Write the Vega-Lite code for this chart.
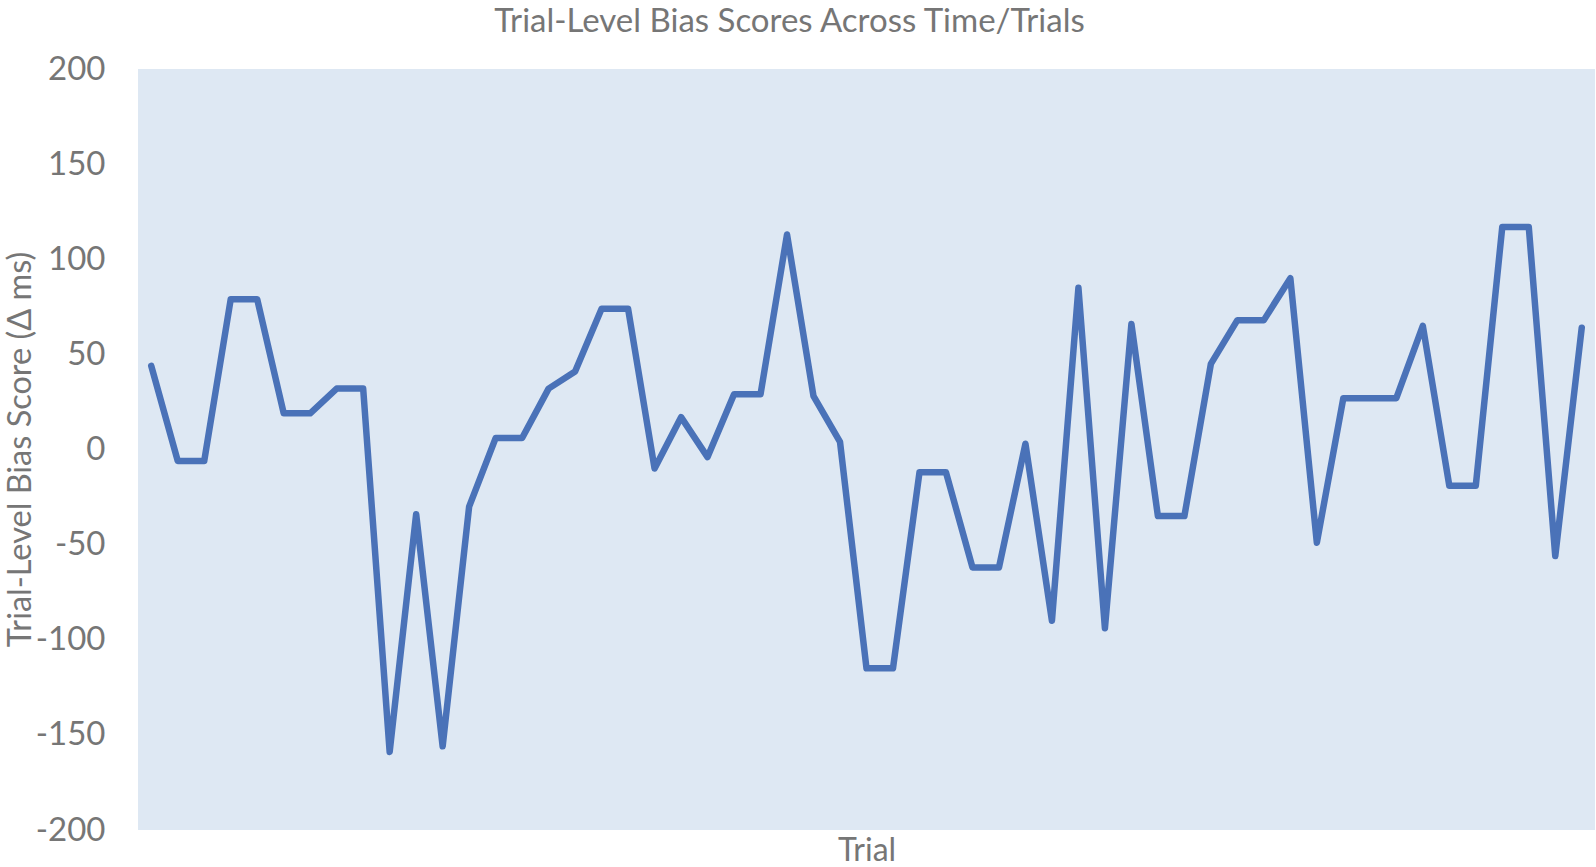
{
  "$schema": "https://vega.github.io/schema/vega-lite/v6.json",
  "width": 1457,
  "height": 761,
  "autosize": "none",
  "padding": {"left": 138, "top": 69, "right": 1, "bottom": 37},
  "background": "white",
  "config": {
    "font": "Lato",
    "view": {"fill": "#DEE8F3", "stroke": null}
  },
  "title": {
    "text": "Trial-Level Bias Scores Across Time/Trials",
    "font": "Lato",
    "fontSize": 33,
    "fontWeight": "normal",
    "color": "#767676",
    "anchor": "middle",
    "frame": "group",
    "dx": -77,
    "offset": 14
  },
  "data": {
    "values": [
      {"trial": 1, "score": 44}, {"trial": 2, "score": -6}, {"trial": 3, "score": -6},
      {"trial": 4, "score": 79}, {"trial": 5, "score": 79}, {"trial": 6, "score": 19},
      {"trial": 7, "score": 19}, {"trial": 8, "score": 32}, {"trial": 9, "score": 32},
      {"trial": 10, "score": -159}, {"trial": 11, "score": -34}, {"trial": 12, "score": -156},
      {"trial": 13, "score": -30}, {"trial": 14, "score": 6}, {"trial": 15, "score": 6},
      {"trial": 16, "score": 32}, {"trial": 17, "score": 41}, {"trial": 18, "score": 74},
      {"trial": 19, "score": 74}, {"trial": 20, "score": -10}, {"trial": 21, "score": 17},
      {"trial": 22, "score": -4}, {"trial": 23, "score": 29}, {"trial": 24, "score": 29},
      {"trial": 25, "score": 113}, {"trial": 26, "score": 28}, {"trial": 27, "score": 4},
      {"trial": 28, "score": -115}, {"trial": 29, "score": -115}, {"trial": 30, "score": -12},
      {"trial": 31, "score": -12}, {"trial": 32, "score": -62}, {"trial": 33, "score": -62},
      {"trial": 34, "score": 3}, {"trial": 35, "score": -90}, {"trial": 36, "score": 85},
      {"trial": 37, "score": -94}, {"trial": 38, "score": 66}, {"trial": 39, "score": -35},
      {"trial": 40, "score": -35}, {"trial": 41, "score": 45}, {"trial": 42, "score": 68},
      {"trial": 43, "score": 68}, {"trial": 44, "score": 90}, {"trial": 45, "score": -49},
      {"trial": 46, "score": 27}, {"trial": 47, "score": 27}, {"trial": 48, "score": 27},
      {"trial": 49, "score": 65}, {"trial": 50, "score": -19}, {"trial": 51, "score": -19},
      {"trial": 52, "score": 117}, {"trial": 53, "score": 117}, {"trial": 54, "score": -56},
      {"trial": 55, "score": 64}
    ]
  },
  "mark": {"type": "line", "color": "#4A72B8", "strokeWidth": 6.5, "strokeJoin": "round", "strokeCap": "round"},
  "encoding": {
    "x": {
      "field": "trial",
      "type": "ordinal",
      "scale": {"paddingOuter": 0.5},
      "axis": {
        "title": "Trial",
        "labels": false,
        "ticks": false,
        "domain": false,
        "grid": false,
        "titleFont": "Lato",
        "titleFontSize": 32,
        "titleFontWeight": "normal",
        "titleColor": "#767676",
        "titlePadding": 5
      }
    },
    "y": {
      "field": "score",
      "type": "quantitative",
      "scale": {"domain": [-200, 200], "nice": false, "zero": false},
      "axis": {
        "title": "Trial-Level Bias Score (Δ ms)",
        "values": [-200, -150, -100, -50, 0, 50, 100, 150, 200],
        "labelExpr": "'' + datum.value",
        "ticks": false,
        "domain": false,
        "grid": false,
        "labelFont": "Lato",
        "labelFontSize": 33,
        "labelColor": "#767676",
        "labelPadding": 33,
        "titleFont": "Lato",
        "titleFontSize": 32.5,
        "titleFontWeight": "normal",
        "titleColor": "#767676",
        "titleAngle": -90,
        "titleBaseline": "top",
        "titleAlign": "center",
        "titleX": -134,
        "titleY": 380
      }
    }
  }
}
